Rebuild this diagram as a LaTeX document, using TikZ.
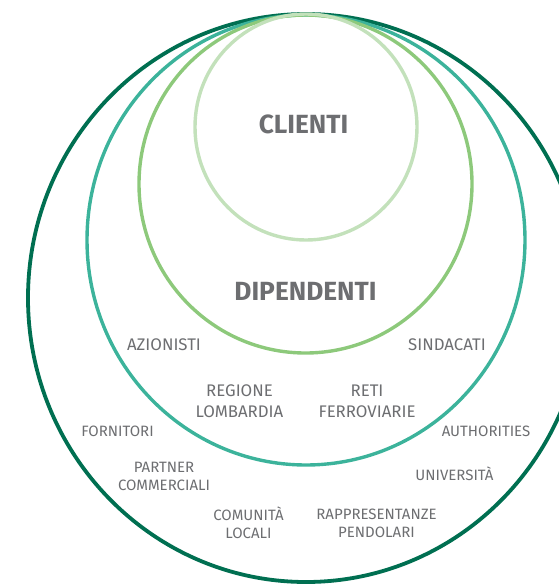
\documentclass[tikz,border=0pt]{standalone}
\usepackage{fontspec}
\setmainfont{Fira Sans}
\definecolor{cOuter}{HTML}{006F51}
\definecolor{cTeal}{HTML}{3CB39B}
\definecolor{cGreen}{HTML}{8DC97B}
\definecolor{cLight}{HTML}{C3E1BB}
\definecolor{cText}{HTML}{6D6E71}
\begin{document}
\begin{tikzpicture}[x=1pt,y=-1pt,
  ring/.style={line width=3.4pt},
  bigtxt/.style={inner sep=0pt,text=cText,font=\fontsize{26.3}{30}\selectfont\bfseries},
  midtxt/.style={inner sep=0pt,text=cText,align=center,font=\fontsize{16.8}{21}\selectfont},
  smalltxt/.style={inner sep=0pt,text=cText,align=center,font=\fontsize{15}{18.3}\selectfont}]
\useasboundingbox (0,0) rectangle (559,584);
\clip (0,0) rectangle (559,584);
\draw[ring,line width=3.8pt,cOuter] (306,298) ellipse [x radius=278, y radius=284];
\draw[ring,cTeal] (306,240) ellipse [x radius=219, y radius=225];
\draw[ring,cGreen] (305.5,184) ellipse [x radius=166.5, y radius=169];
\draw[ring,cLight] (306,127) ellipse [x radius=111, y radius=113];
\node[bigtxt] (clienti) at (303.5,124.5) {CLIENTI};
\node[bigtxt] (dipendenti) at (305.5,291) {DIPENDENTI};
\node[midtxt] (azionisti) at (164,345) {AZIONISTI};
\node[midtxt] (sindacati) at (447,345) {SINDACATI};
\node[midtxt] (regione) at (239.5,401.5) {REGIONE\\LOMBARDIA};
\node[midtxt] (reti) at (367,401.5) {RETI\\FERROVIARIE};
\node[smalltxt] (fornitori) at (117.5,431) {FORNITORI};
\node[smalltxt] (authorities) at (486,431) {AUTHORITIES};
\node[smalltxt] (universita) at (454.5,473.5) {UNIVERSITÀ};
\node[smalltxt] (partner) at (164,476.5) {PARTNER\\COMMERCIALI};
\node[smalltxt] (comunita) at (248.5,522.5) {COMUNITÀ\\LOCALI};
\node[smalltxt] (rappresentanze) at (376.5,523) {RAPPRESENTANZE\\PENDOLARI};
\end{tikzpicture}
\end{document}
